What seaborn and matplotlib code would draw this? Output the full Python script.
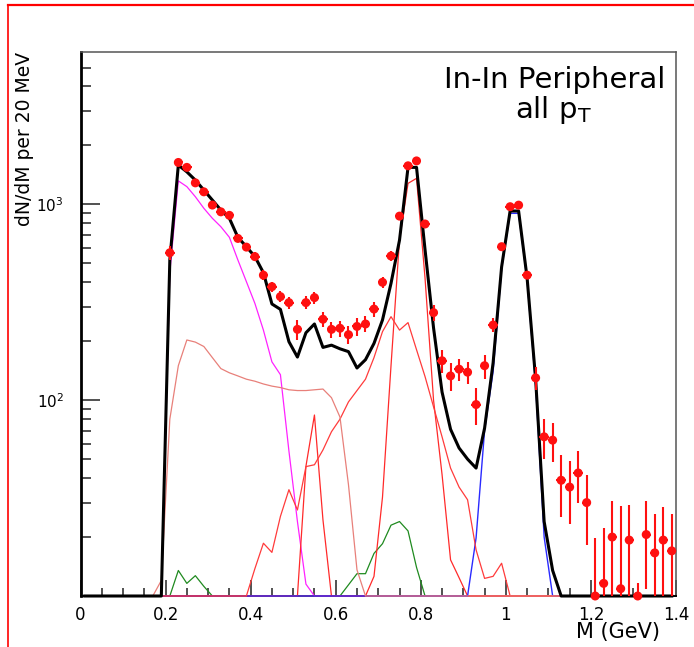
import numpy as np
import matplotlib
matplotlib.use("Agg")
import matplotlib.pyplot as plt
from matplotlib.lines import Line2D
from matplotlib.ticker import FixedLocator, MultipleLocator, NullFormatter
import seaborn as sns

# ---------------- data ----------------
# model curves: 20 MeV bins, centres 0.01 ... 1.39 GeV
model_mass = np.round(np.arange(70) * 0.02 + 0.01, 2)

total = [0, 0, 0, 0, 0, 0, 0, 0, 0, 0,
         520, 1587, 1466, 1330, 1183, 1052, 935, 849, 679, 608,
         541, 448, 310, 291, 199, 166, 221, 245, 186, 191,
         183, 177, 146, 161, 195, 257, 395, 657, 1545, 1545,
         587, 234, 110, 71, 57, 50, 45, 72, 155, 479,
         925, 925, 420, 128, 24, 13.5, 0, 0, 0, 0,
         0, 0, 0, 0, 0, 0, 0, 0, 0, 0]

eta_dalitz = [0, 0, 0, 0, 0, 0, 0, 0, 0, 0,
              450, 1318, 1232, 1094, 955, 849, 769, 679, 520, 403,
              312, 228, 157, 135, 55, 24, 11.5, 0, 0, 0,
              0, 0, 0, 0, 0, 0, 0, 0, 0, 0,
              0, 0, 0, 0, 0, 0, 0, 0, 0, 0,
              0, 0, 0, 0, 0, 0, 0, 0, 0, 0,
              0, 0, 0, 0, 0, 0, 0, 0, 0, 0]

omega_dalitz = [0, 0, 0, 0, 0, 0, 0, 0, 0, 12,
                80, 150, 203, 198, 188, 165, 145, 138, 133, 128,
                125, 121, 118, 116, 113, 112, 112, 113, 114, 103,
                82, 37, 13.6, 0, 0, 0, 0, 0, 0, 0,
                0, 0, 0, 0, 0, 0, 0, 0, 0, 0,
                0, 0, 0, 0, 0, 0, 0, 0, 0, 0,
                0, 0, 0, 0, 0, 0, 0, 0, 0, 0]

rho = [0, 0, 0, 0, 0, 0, 0, 0, 0, 0,
       0, 0, 0, 0, 0, 0, 0, 0, 0, 0,
       13.8, 18.6, 16.7, 25.5, 34.9, 27.5, 45.8, 46.8, 55.7, 69,
       80, 98, 112, 128, 165, 224, 267, 228, 249, 181,
       132, 92.5, 65, 45, 36, 31, 17.2, 12.3, 12.6, 14.7,
       0, 0, 0, 0, 0, 0, 0, 0, 0, 0,
       0, 0, 0, 0, 0, 0, 0, 0, 0, 0]

omega = [0, 0, 0, 0, 0, 0, 0, 0, 0, 0,
         0, 0, 0, 0, 0, 0, 0, 0, 0, 0,
         0, 0, 0, 0, 0, 0, 0, 0, 0, 0,
         0, 0, 0, 0, 12.6, 32, 150, 661, 1280, 1358,
         420, 100, 41.7, 15.3, 12.4, 0, 0, 0, 0, 0,
         0, 0, 0, 0, 0, 0, 0, 0, 0, 0,
         0, 0, 0, 0, 0, 0, 0, 0, 0, 0]

eta_mumu = [0, 0, 0, 0, 0, 0, 0, 0, 0, 0,
            0, 0, 0, 0, 0, 0, 0, 0, 0, 0,
            0, 0, 0, 0, 0, 0, 46, 84, 24.5, 0,
            0, 0, 0, 0, 0, 0, 0, 0, 0, 0,
            0, 0, 0, 0, 0, 0, 0, 0, 0, 0,
            0, 0, 0, 0, 0, 0, 0, 0, 0, 0,
            0, 0, 0, 0, 0, 0, 0, 0, 0, 0]

etaprime = [0, 0, 0, 0, 0, 0, 0, 0, 0, 0,
            0, 13.5, 11.6, 12.7, 11.2, 0, 0, 0, 0, 0,
            0, 0, 0, 0, 0, 0, 0, 0, 0, 0,
            0, 11.4, 13, 13, 16.5, 18.5, 23, 24, 21.5, 14,
            0, 0, 0, 0, 0, 0, 0, 0, 0, 0,
            0, 0, 0, 0, 0, 0, 0, 0, 0, 0,
            0, 0, 0, 0, 0, 0, 0, 0, 0, 0]

phi = [0, 0, 0, 0, 0, 0, 0, 0, 0, 0,
       0, 0, 0, 0, 0, 0, 0, 0, 0, 0,
       0, 0, 0, 0, 0, 0, 0, 0, 0, 0,
       0, 0, 0, 0, 0, 0, 0, 0, 0, 0,
       0, 0, 0, 0, 0, 0, 19.8, 70, 140, 470,
       900, 900, 410, 120, 20, 0, 0, 0, 0, 0,
       0, 0, 0, 0, 0, 0, 0, 0, 0, 0]

# measured points: centres 0.21 ... 1.39 GeV
data_mass = np.round(np.arange(60) * 0.02 + 0.21, 2)
data_counts = [566, 1637, 1545, 1288, 1159, 992, 916, 879, 670, 605,
               541, 435, 380, 338, 315, 230, 315, 334, 259, 230,
               233, 216, 238, 245, 292, 400, 545, 871, 1574, 1667,
               794, 280, 159, 133, 144, 139, 95, 150, 242, 608,
               973, 991, 435, 130, 65, 62.5, 39, 36, 42.5, 30,
               10, 11.6, 20, 10.9, 19.3, 10, 20.6, 16.6, 19.3, 17]
data_err = [45, 55, 50, 45, 40, 35, 35, 35, 30, 28,
            27, 25, 23, 22, 22, 27, 24, 24, 23, 22,
            22, 23, 25, 23, 25, 28, 30, 35, 50, 50,
            35, 25, 21, 22, 19, 18, 20, 21, 20, 30,
            35, 35, 20, 17, 15, 14, 13.7, 12.7, 12.5, 11.7,
            9.8, 10.6, 10.7, 18, 9.7, 1.6, 9.8, 9.6, 9.3, 9.2]

x_tick_values = [0, 0.2, 0.4, 0.6, 0.8, 1.0, 1.2, 1.4]
x_tick_labels = ["0", "0.2", "0.4", "0.6", "0.8", "1", "1.2", "1.4"]
y_tick_values = [100, 1000]
y_tick_labels = [r"$10^{2}$", r"$10^{3}$"]

YMIN, YMAX = 10, 6000

# ---------------- figure ----------------
plt.rcParams['font.family'] = ['DejaVu Sans']
plt.rcParams['mathtext.fontset'] = 'dejavusans'

W, H = 694, 647
fig = plt.figure(figsize=(W / 100, H / 100), dpi=100)
fig.patch.set_facecolor('white')
ax = fig.add_axes([80.5 / W, (H - 596) / H, (676 - 80.5) / W, (596 - 52) / H])
ax.set_facecolor('white')

curves = [
    (etaprime, '#1f8a1f', 0.9),
    (eta_dalitz, '#ff22ff', 0.9),
    (omega, '#ff2a2a', 0.9),
    (eta_mumu, '#ff2a2a', 0.9),
    (phi, '#2a2aff', 1.0),
    (rho, '#ff3b3b', 0.9),
    (omega_dalitz, '#e8807a', 0.9),
    (total, '#000000', 2.2),
]
for vals, col, lw in curves:
    y = np.clip(np.asarray(vals, dtype=float), YMIN, None)
    sns.lineplot(x=model_mass, y=y, ax=ax, color=col, lw=lw,
                 estimator=None, sort=False, legend=False,
                 clip_on=False, zorder=3)

# data with error bars
counts = np.asarray(data_counts, dtype=float)
errs = np.asarray(data_err, dtype=float)
lower = np.minimum(errs, counts * 0.999)
ax.errorbar(data_mass, counts, yerr=[lower, errs], xerr=0.011, fmt='none',
            ecolor='#ff1010', elinewidth=1.5, capsize=0, zorder=4)
sns.scatterplot(x=data_mass, y=counts, ax=ax, color='#ff1010', s=42,
                marker='o', edgecolor='none', linewidth=0, legend=False,
                clip_on=False, zorder=5)

ax.set_yscale('log')
ax.set_xlim(0, 1.4)
ax.set_ylim(YMIN, YMAX)
ax.set_xlabel('')
ax.set_ylabel('')

ax.xaxis.set_major_locator(FixedLocator(x_tick_values))
ax.set_xticklabels(x_tick_labels)
ax.xaxis.set_minor_locator(MultipleLocator(0.05))
ax.yaxis.set_major_locator(FixedLocator(y_tick_values))
ax.set_yticklabels(y_tick_labels)
minor_y = [v * d for d in (10, 100, 1000) for v in range(2, 10) if v * d < YMAX]
ax.yaxis.set_minor_locator(FixedLocator(minor_y))
ax.yaxis.set_minor_formatter(NullFormatter())

ax.tick_params(axis='x', which='major', direction='in', length=11.5, width=1.1,
               color='#222222', labelsize=12, pad=7)
ax.tick_params(axis='x', which='minor', direction='in', length=6, width=1.1,
               color='#222222')
ax.tick_params(axis='y', which='major', direction='in', length=13.5, width=1.1,
               color='#222222', labelsize=11, pad=12)
ax.tick_params(axis='y', which='minor', direction='in', length=7.5, width=1.1,
               color='#222222')
ax.tick_params(top=False, right=False)

ax.spines['left'].set_color('black')
ax.spines['left'].set_linewidth(2.0)
ax.spines['bottom'].set_color('black')
ax.spines['bottom'].set_linewidth(1.4)
for s in ('top', 'right'):
    ax.spines[s].set_color('#555555')
    ax.spines[s].set_linewidth(1.1)

# texts
fig.text(665 / W, (H - 87.5) / H, 'In-In Peripheral', ha='right', va='baseline',
         fontsize=21, color='black')
fig.text(592 / W, (H - 118.5) / H, r'all $\mathregular{p_{T}}$', ha='right',
         va='baseline', fontsize=21, color='black')
fig.text(660 / W, (H - 638) / H, 'M (GeV)', ha='right', va='baseline',
         fontsize=15, color='black')
fig.text(24 / W, 1 - 52 / H, 'dN/dM per 20 MeV', rotation=90, ha='center',
         va='top', fontsize=13.5, color='black')

# red canvas frame (left and top edges)
fig.add_artist(Line2D([8 / W, 8 / W], [0, 1 - 4.5 / H], color='#ff0000', lw=1.2))
fig.add_artist(Line2D([8 / W, 1], [1 - 4.5 / H, 1 - 4.5 / H], color='#ff0000', lw=1.6))

fig.savefig('out.png', dpi=100, facecolor='white')
